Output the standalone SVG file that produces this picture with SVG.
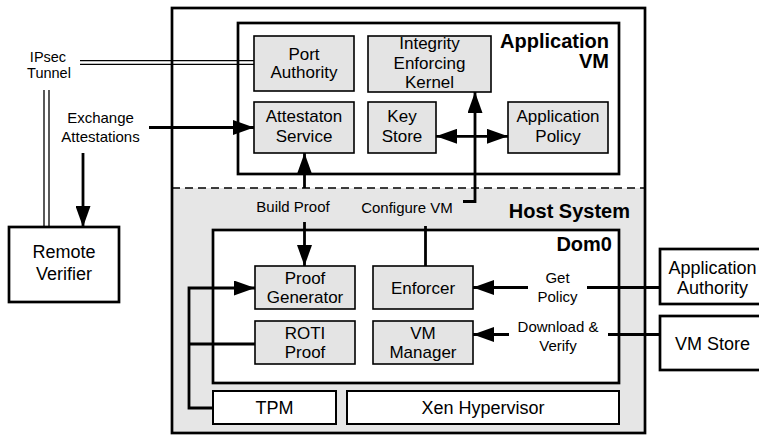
<svg xmlns="http://www.w3.org/2000/svg" width="759" height="437" viewBox="0 0 759 437">
  <defs>
    <style>
      text { font-family: "Liberation Sans", Arial, Helvetica, sans-serif; fill: #000; text-anchor: middle; }
      .node rect { fill: #e4e4e4; stroke: #000; stroke-width: 1.6; }
      .plain rect { fill: #fff; stroke: #000; stroke-width: 2; }
      .ext rect { fill: #fff; stroke: #000; stroke-width: 2.7; }
      .frame { fill: none; stroke: #000; stroke-width: 2.7; }
      .t17 { font-size: 17px; }
      .t18 { font-size: 18px; }
      .lbl { font-size: 15px; }
      .title { font-size: 20px; font-weight: bold; text-anchor: end; }
      .wire { fill: none; stroke: #000; stroke-width: 2.8; }
      .arrow { marker-end: url(#head); }
      .both { marker-start: url(#head); marker-end: url(#head); }
      .tunnel { fill: none; stroke: #000; stroke-width: 1.3; }
    </style>
    <marker id="head" viewBox="0 0 21 15" refX="21" refY="7.5" markerWidth="21" markerHeight="15" markerUnits="userSpaceOnUse" orient="auto-start-reverse">
      <path d="M0,0 L21,7.5 L0,15 z" fill="#000"/>
    </marker>
  </defs>

  <!-- Host system frame: white upper part, grey lower part split by a dashed line -->
  <g id="host-system">
    <rect x="172" y="188" width="473" height="245" fill="#e6e6e6"/>
    <line x1="172" y1="188" x2="645" y2="188" stroke="#000" stroke-width="1.3" stroke-dasharray="8,5"/>
    <rect class="frame" x="172" y="8" width="473" height="425"/>
    <text class="title" x="630" y="218.3">Host System</text>
  </g>

  <g id="application-vm">
    <rect class="frame" x="238" y="23" width="381" height="151" fill="#fff"/>
    <text class="title" x="609" y="48.3">Application</text>
    <text class="title" x="609" y="68.3">VM</text>
  </g>

  <g id="dom0">
    <rect class="frame" x="213" y="230" width="406" height="153" style="fill:#fff"/>
    <text class="title" x="612" y="250.5">Dom0</text>
  </g>

  <!-- Application VM components -->
  <g id="port-authority" class="node">
    <rect x="254" y="36" width="100" height="55"/>
    <text class="t17" x="304" y="59.5">Port</text>
    <text class="t17" x="304" y="78">Authority</text>
  </g>
  <g id="attestation-service" class="node">
    <rect x="254" y="102" width="100" height="51"/>
    <text class="t17" x="304" y="122">Attestaton</text>
    <text class="t17" x="304" y="141.5">Service</text>
  </g>
  <g id="integrity-kernel" class="node">
    <rect x="368" y="36" width="123" height="56"/>
    <text class="t17" x="429.5" y="49">Integrity</text>
    <text class="t17" x="429.5" y="68.5">Enforcing</text>
    <text class="t17" x="429.5" y="88">Kernel</text>
  </g>
  <g id="key-store" class="node">
    <rect x="368" y="102" width="68" height="51"/>
    <text class="t17" x="402" y="122">Key</text>
    <text class="t17" x="402" y="141.5">Store</text>
  </g>
  <g id="application-policy" class="node">
    <rect x="508" y="102" width="100" height="51"/>
    <text class="t17" x="558" y="122">Application</text>
    <text class="t17" x="558" y="141.5">Policy</text>
  </g>

  <!-- Dom0 components -->
  <g id="proof-generator" class="node">
    <rect x="255" y="266" width="100" height="43"/>
    <text class="t17" x="305" y="283.5">Proof</text>
    <text class="t17" x="305" y="303.3">Generator</text>
  </g>
  <g id="roti-proof" class="node">
    <rect x="255" y="321" width="100" height="43"/>
    <text class="t17" x="305" y="338.5">ROTI</text>
    <text class="t17" x="305" y="358.3">Proof</text>
  </g>
  <g id="enforcer" class="node">
    <rect x="373" y="266" width="100" height="43"/>
    <text class="t17" x="423" y="293.5">Enforcer</text>
  </g>
  <g id="vm-manager" class="node">
    <rect x="373" y="321" width="100" height="43"/>
    <text class="t17" x="423" y="338.5">VM</text>
    <text class="t17" x="423" y="358.3">Manager</text>
  </g>

  <!-- Platform layer -->
  <g id="tpm" class="plain">
    <rect x="213" y="391" width="123" height="33"/>
    <text class="t18" x="274.5" y="414">TPM</text>
  </g>
  <g id="xen-hypervisor" class="plain">
    <rect x="347" y="391" width="272" height="33"/>
    <text class="t18" x="483" y="414">Xen Hypervisor</text>
  </g>

  <!-- External parties -->
  <g id="remote-verifier" class="ext">
    <rect x="9" y="227" width="110" height="75"/>
    <text class="t18" x="64" y="258">Remote</text>
    <text class="t18" x="64" y="280">Verifier</text>
  </g>
  <g id="application-authority" class="ext">
    <rect x="660" y="249" width="110" height="55"/>
    <text class="t18" x="712.5" y="273.5">Application</text>
    <text class="t18" x="712.5" y="293.5">Authority</text>
  </g>
  <g id="vm-store" class="ext">
    <rect x="660" y="316" width="110" height="54"/>
    <text class="t18" x="712.5" y="349.5">VM Store</text>
  </g>

  <!-- Connectors -->
  <g id="connectors">
    <!-- IPsec tunnel (double line) -->
    <line class="tunnel" x1="80" y1="60.7" x2="254" y2="60.7"/>
    <line class="tunnel" x1="80" y1="64.3" x2="254" y2="64.3"/>
    <line class="tunnel" x1="44" y1="90" x2="44" y2="227"/>
    <line class="tunnel" x1="49" y1="90" x2="49" y2="227"/>
    <text class="lbl" x="48" y="61.5" style="font-size:14.5px">IPsec</text>
    <text class="lbl" x="49" y="77.5" style="font-size:14.5px">Tunnel</text>

    <!-- Exchange attestations -->
    <line class="wire arrow" x1="149" y1="127.5" x2="254" y2="127.5"/>
    <line class="wire arrow" x1="83" y1="153" x2="83" y2="227"/>
    <text class="lbl" x="100.5" y="122.5">Exchange</text>
    <text class="lbl" x="100.5" y="141.5">Attestations</text>

    <!-- Build proof -->
    <line class="wire arrow" x1="304.5" y1="188" x2="304.5" y2="153"/>
    <line class="wire arrow" x1="304.5" y1="222" x2="304.5" y2="266"/>
    <text class="lbl" x="293" y="212">Build Proof</text>

    <!-- Configure VM -->
    <line class="wire" x1="425.5" y1="266" x2="425.5" y2="226"/>
    <path class="wire arrow" d="M463,201.5 H475 V92"/>
    <text class="lbl" x="407" y="213">Configure VM</text>

    <!-- Key store / application policy -->
    <line class="wire both" x1="436" y1="136.3" x2="508" y2="136.3"/>

    <!-- Get policy -->
    <line class="wire" x1="660" y1="287.5" x2="587" y2="287.5"/>
    <line class="wire arrow" x1="528" y1="287.5" x2="473" y2="287.5"/>
    <text class="lbl" x="557.5" y="283.3">Get</text>
    <text class="lbl" x="557.5" y="301.7">Policy</text>

    <!-- Download and verify -->
    <line class="wire" x1="660" y1="334.5" x2="608" y2="334.5"/>
    <line class="wire arrow" x1="509" y1="334.5" x2="473" y2="334.5"/>
    <text class="lbl" x="558" y="332.3">Download &amp;</text>
    <text class="lbl" x="558" y="351">Verify</text>

    <!-- TPM bus -->
    <path class="wire arrow" d="M213,408 H189 V288 H255"/>
    <line class="wire" x1="189" y1="344" x2="255" y2="344"/>
  </g>
</svg>
